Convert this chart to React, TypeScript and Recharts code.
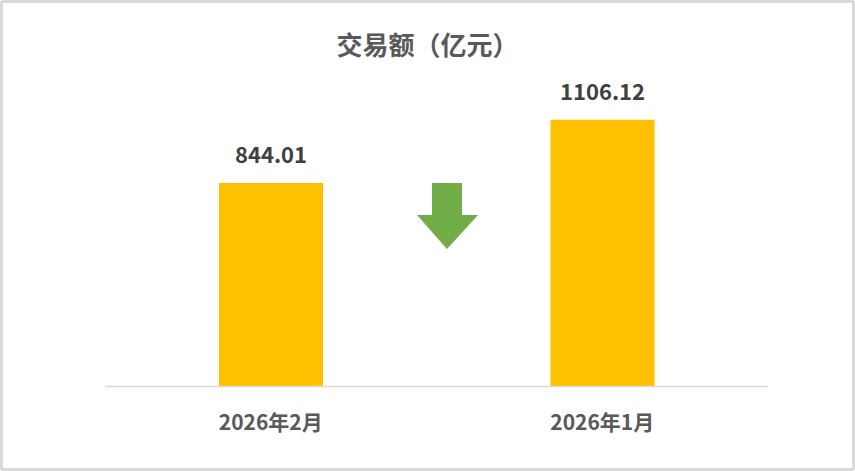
import React from 'react';
import { BarChart, Bar, XAxis, YAxis, LabelList } from 'recharts';

const months = ['2026年2月', '2026年1月'];
const amounts = [844.01, 1106.12];
const yTicks = [0, 300, 600, 900, 1200];

const data = months.map((m, i) => ({ month: m, value: amounts[i] }));

const FONT = '"Noto Sans CJK SC", "Noto Sans", sans-serif';

const MonthTick = (props: any) => {
  const { x, y, payload } = props;
  return (
    <text
      x={x}
      y={y + 43}
      textAnchor="middle"
      fill="#595959"
      fontSize={21}
      fontWeight="bold"
      fontFamily={FONT}
    >
      {payload.value}
    </text>
  );
};

export default function App() {
  return (
    <div style={{ position: 'absolute', left: 0, top: 0, width: 855, height: 471, background: '#fff' }}>
      <BarChart
        width={855}
        height={471}
        data={data}
        margin={{ top: 97, right: 87, left: 105, bottom: 0 }}
      >
        <XAxis
          dataKey="month"
          height={84.5}
          axisLine={{ stroke: '#d9d9d9', strokeWidth: 1.5 }}
          tickLine={false}
          tickSize={0}
          tickMargin={0}
          tick={<MonthTick />}
          interval={0}
        />
        <YAxis hide domain={[0, 1200]} ticks={yTicks} width={0} />
        <Bar dataKey="value" fill="#FFC000" barSize={104} isAnimationActive={false}>
          <LabelList
            dataKey="value"
            position="top"
            offset={20}
            formatter={(v: any) => Number(v).toFixed(2)}
            fill="#404040"
            fontSize={22}
            fontWeight="bold"
            fontFamily={FONT}
          />
        </Bar>
      </BarChart>
      <svg
        width={855}
        height={471}
        style={{ position: 'absolute', left: 0, top: 0, pointerEvents: 'none' }}
      >
        <text
          x={427.5}
          y={55}
          textAnchor="middle"
          fill="#595959"
          fontSize={26}
          fontWeight="bold"
          fontFamily={FONT}
        >
          交易额（亿元）
        </text>
        <polygon
          points="432,183 462,183 462,215 478,215 447,249 417,215 432,215"
          fill="#70AD47"
        />
      </svg>
      <div
        style={{
          position: 'absolute',
          left: 0,
          top: 0,
          width: 855,
          height: 471,
          boxSizing: 'border-box',
          border: '3px solid #d9d9d9',
          borderRadius: 3,
          pointerEvents: 'none',
        }}
      />
    </div>
  );
}
